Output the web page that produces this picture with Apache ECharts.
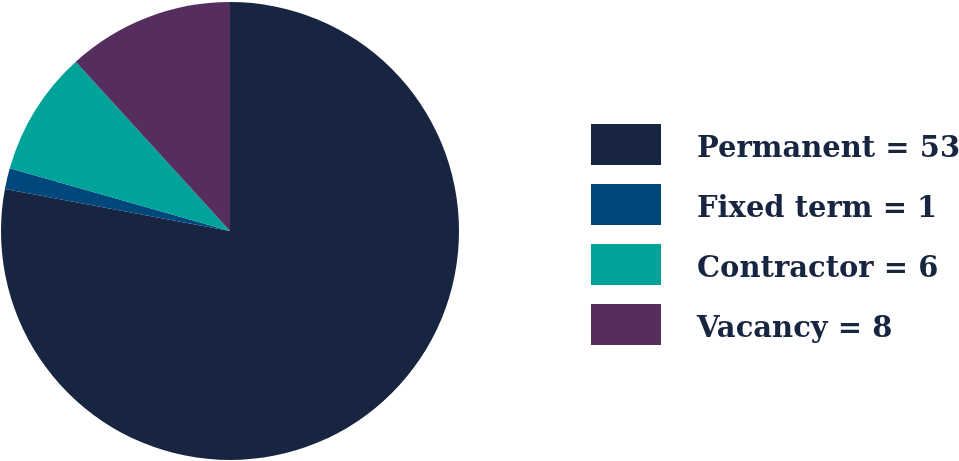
<!DOCTYPE html>
<html>
<head>
<meta charset="utf-8">
<script src="https://cdn.jsdelivr.net/npm/echarts@6/dist/echarts.min.js"></script>
<style>html,body{margin:0;padding:0;background:#fff;}#c{width:959px;height:461px;}</style>
</head>
<body>
<div id="c"></div>
<script>
const categories = ['Permanent', 'Fixed term', 'Contractor', 'Vacancy'];
const values = [53, 1, 6, 8];
const colors = ['#182541', '#00477B', '#00A39A', '#552D5E'];

const chart = echarts.init(document.getElementById('c'));
chart.setOption({
  animation: false,
  color: colors,
  legend: {
    orient: 'vertical',
    left: 591,
    top: 124,
    padding: 0,
    itemWidth: 70,
    itemHeight: 41,
    itemGap: 19,
    icon: 'rect',
    selectedMode: false,
    data: categories,
    formatter: function (name) {
      return '{a|' + name + ' = ' + values[categories.indexOf(name)] + '}';
    },
    textStyle: {
      color: '#182541',
      fontFamily: 'DejaVu Serif',
      fontWeight: 'bold',
      fontSize: 29,
      rich: {
        a: {
          color: '#182541',
          fontFamily: 'DejaVu Serif',
          fontWeight: 'bold',
          fontSize: 29,
          padding: [9, 0, 0, 31]
        }
      }
    }
  },
  series: [{
    type: 'pie',
    center: [230, 231],
    radius: 229,
    startAngle: 90,
    clockwise: true,
    silent: true,
    label: { show: false },
    labelLine: { show: false },
    itemStyle: { borderWidth: 0 },
    data: categories.map((c, i) => ({ name: c, value: values[i] }))
  }]
});
</script>
</body>
</html>
